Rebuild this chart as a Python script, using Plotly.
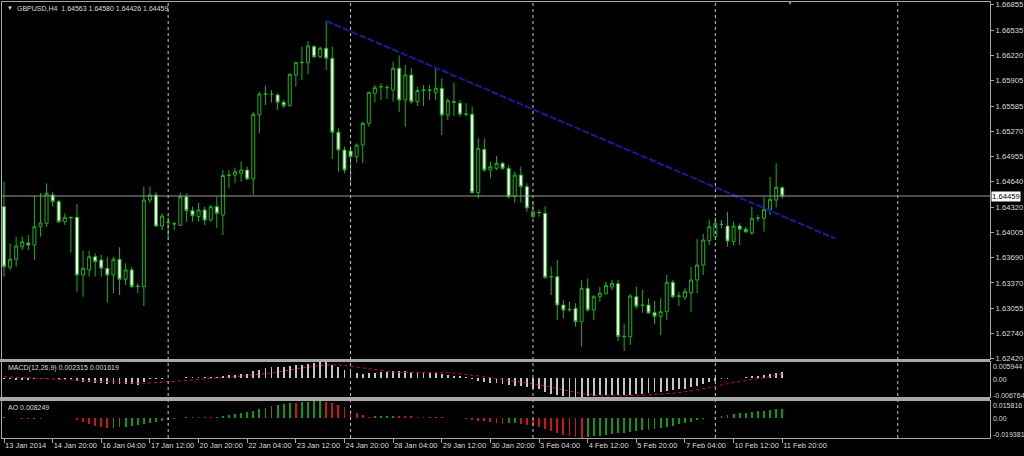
import plotly.graph_objects as go

# ---------------- data ----------------
symbol_text = "GBPUSD,H4  1.64563 1.64580 1.64426 1.64459"

opens = [1.64325,1.63566,1.63666,1.63824,1.63870,1.63845,1.64074,1.64117,1.64472,1.64388,
         1.64137,1.64192,1.64192,1.63469,1.63532,1.63698,1.63657,1.63553,1.63469,1.63666,
         1.63415,1.63532,1.63331,1.63323,1.64409,1.64472,1.64083,1.64124,1.64108,1.64092,
         1.64450,1.64275,1.64200,1.64284,1.64158,1.64325,1.64221,1.64718,1.64722,1.64743,
         1.64785,1.64672,1.65474,1.65731,1.65733,1.65725,1.65633,1.65591,1.65975,1.66129,
         1.66129,1.66330,1.66204,1.66310,1.66184,1.65257,1.65035,1.65023,1.64951,1.65098,
         1.65370,1.65746,1.65825,1.65816,1.65787,1.66059,1.65662,1.65975,1.65641,1.65783,
         1.65787,1.65753,1.65809,1.65474,1.65641,1.65621,1.65486,1.65483,1.64500,1.65044,
         1.64785,1.64806,1.64869,1.64806,1.64450,1.64722,1.64576,1.64200,1.64250,1.64242,
         1.63444,1.63448,1.63093,1.63039,1.63052,1.62884,1.63303,1.63031,1.63197,1.63240,
         1.63319,1.63360,1.62696,1.62696,1.63197,1.63093,1.63093,1.62997,1.62952,1.63009,
         1.63378,1.63202,1.63190,1.63247,1.63407,1.63594,1.63899,1.63949,1.64102,1.64083,
         1.63889,1.64083,1.64042,1.63999,1.64180,1.64180,1.64284,1.64409,1.64563]
highs = [1.64638,1.63866,1.63949,1.63949,1.63970,1.64459,1.64497,1.64618,1.64513,1.64409,
         1.64242,1.64200,1.64359,1.63774,1.63774,1.63741,1.63720,1.63698,1.63698,1.63816,
         1.63616,1.63573,1.63365,1.64576,1.64576,1.64513,1.64242,1.64200,1.64137,1.64500,
         1.64493,1.64325,1.64371,1.64325,1.64346,1.64450,1.64785,1.64785,1.64814,1.64889,
         1.64826,1.65515,1.65766,1.65841,1.65787,1.65746,1.65662,1.65996,1.66142,1.66330,
         1.66401,1.66351,1.66330,1.66652,1.66330,1.65307,1.65077,1.65077,1.65119,1.65390,
         1.65766,1.65850,1.65871,1.65850,1.66142,1.66220,1.66100,1.66059,1.65829,1.65850,
         1.65850,1.66050,1.65934,1.65683,1.65881,1.65662,1.65621,1.65578,1.65182,1.65182,
         1.64889,1.64960,1.64889,1.64847,1.64763,1.64826,1.64618,1.64388,1.64292,1.64330,
         1.63573,1.63657,1.63156,1.63135,1.63115,1.63407,1.63428,1.63219,1.63323,1.63385,
         1.63407,1.63407,1.62861,1.63231,1.63323,1.63281,1.63177,1.63143,1.63177,1.63469,
         1.63407,1.63260,1.63303,1.63569,1.63920,1.63983,1.64162,1.64190,1.64158,1.64262,
         1.64137,1.64117,1.64074,1.64325,1.64221,1.64450,1.64697,1.64869,1.64580]
lows = [1.63448,1.63532,1.63573,1.63782,1.63782,1.63657,1.63949,1.64074,1.64325,1.64121,
        1.64096,1.63749,1.63260,1.63197,1.63448,1.63448,1.63448,1.63122,1.63240,1.63219,
        1.63344,1.63303,1.63240,1.63081,1.64368,1.64074,1.64033,1.63942,1.64033,1.64083,
        1.64137,1.64137,1.64137,1.64096,1.64137,1.64054,1.63970,1.64555,1.64618,1.64638,
        1.64659,1.64472,1.65245,1.65599,1.65633,1.65537,1.65558,1.65578,1.65829,1.65913,
        1.65984,1.66184,1.66184,1.66038,1.64923,1.64763,1.64743,1.64618,1.64881,1.64869,
        1.65327,1.65633,1.65662,1.65674,1.65641,1.65512,1.65327,1.65612,1.65587,1.65587,
        1.65662,1.65662,1.65223,1.65411,1.65461,1.65453,1.65455,1.64493,1.64430,1.64763,
        1.64681,1.64785,1.64785,1.64430,1.64375,1.64375,1.64259,1.64180,1.64200,1.63419,
        1.63219,1.62905,1.62927,1.63009,1.62821,1.62571,1.63009,1.62905,1.63135,1.63219,
        1.63281,1.62642,1.62517,1.62592,1.63043,1.62999,1.62989,1.62855,1.62717,1.62905,
        1.63177,1.63081,1.63156,1.63009,1.63240,1.63469,1.63845,1.63908,1.64054,1.63824,
        1.63839,1.63845,1.63992,1.63970,1.64137,1.64012,1.64221,1.64317,1.64426]
closes = [1.63573,1.63666,1.63833,1.63886,1.63845,1.64074,1.64121,1.64493,1.64388,1.64137,
          1.64192,1.64186,1.63469,1.63553,1.63698,1.63636,1.63553,1.63469,1.63666,1.63415,
          1.63532,1.63323,1.63325,1.64409,1.64472,1.64083,1.64208,1.64129,1.64112,1.64450,
          1.64275,1.64212,1.64284,1.64158,1.64325,1.64242,1.64716,1.64722,1.64763,1.64785,
          1.64672,1.65483,1.65737,1.65737,1.65731,1.65633,1.65591,1.65984,1.66129,1.66134,
          1.66339,1.66204,1.66310,1.66184,1.65257,1.65035,1.64785,1.64951,1.65098,1.65370,
          1.65758,1.65816,1.65829,1.65818,1.66059,1.65662,1.65975,1.65641,1.65781,1.65787,
          1.65783,1.65809,1.65474,1.65653,1.65633,1.65486,1.65483,1.64500,1.65057,1.64785,
          1.64826,1.64869,1.64806,1.64450,1.64722,1.64576,1.64309,1.64262,1.64252,1.63438,
          1.63448,1.63093,1.63031,1.63034,1.62884,1.63303,1.63031,1.63197,1.63240,1.63338,
          1.63365,1.62699,1.62701,1.63206,1.63077,1.63089,1.62993,1.62952,1.63009,1.63378,
          1.63197,1.63206,1.63260,1.63407,1.63594,1.63908,1.64074,1.64117,1.64104,1.63895,
          1.64083,1.64042,1.64012,1.64180,1.64183,1.64292,1.64418,1.64568,1.64459]

macd_main = [-0.0003,-0.0004,-0.0005,-0.0005,-0.0005,-0.0004,-0.0003,-0.0001,0.0000,-0.0002,
             -0.0003,-0.0004,-0.0009,-0.0012,-0.0014,-0.0016,-0.0018,-0.0019,-0.0020,-0.0021,
             -0.0021,-0.0022,-0.0023,-0.0012,-0.0004,-0.0002,-0.0001,0.0000,0.0001,0.0003,
             0.0004,0.0004,0.0005,0.0005,0.0005,0.0005,0.0009,0.0012,0.0014,0.0016,
             0.0017,0.0025,0.0032,0.0037,0.0040,0.0041,0.0041,0.0044,0.0047,0.0050,
             0.0054,0.0056,0.0058,0.005944,0.0050,0.0040,0.0030,0.0023,0.0018,0.0016,
             0.0019,0.0021,0.0022,0.0023,0.0026,0.0026,0.0026,0.0024,0.0022,0.0021,
             0.0020,0.0019,0.0015,0.0012,0.0010,0.0007,0.0004,-0.0004,-0.0008,-0.0012,
             -0.0015,-0.0017,-0.0019,-0.0023,-0.0026,-0.0029,-0.0033,-0.0037,-0.0040,-0.0049,
             -0.0055,-0.0060,-0.0064,-0.0066,-0.006764,-0.0066,-0.0065,-0.0064,-0.0062,-0.0061,
             -0.0059,-0.0061,-0.0062,-0.0059,-0.0057,-0.0055,-0.0053,-0.0051,-0.0050,-0.0046,
             -0.0043,-0.0040,-0.0037,-0.0033,-0.0027,-0.0020,-0.0013,-0.0008,-0.0004,-0.0002,
             0.0000,0.0002,0.0004,0.0007,0.0010,0.0013,0.0016,0.0020,0.002315]
macd_signal = [0.0006,0.0005,0.0004,0.0003,0.0002,0.0001,0.0000,-0.0001,-0.0002,-0.0003,
               -0.0003,-0.0004,-0.0005,-0.0006,-0.0007,-0.0008,-0.0010,-0.0011,-0.0013,-0.0014,
               -0.0016,-0.0017,-0.0019,-0.0018,-0.0017,-0.0016,-0.0015,-0.0013,-0.0011,-0.0009,
               -0.0007,-0.0005,-0.0003,-0.0001,0.0001,0.0002,0.0004,0.0005,0.0006,0.0008,
               0.0009,0.0011,0.0014,0.0017,0.0020,0.0023,0.0027,0.0030,0.0034,0.0038,
               0.0041,0.0044,0.0047,0.0049,0.0050,0.0049,0.0047,0.0044,0.0041,0.0037,
               0.0033,0.0030,0.0027,0.0025,0.0023,0.0022,0.0022,0.0022,0.0022,0.0022,
               0.0022,0.0022,0.0021,0.0020,0.0019,0.0017,0.0015,0.0012,0.0009,0.0006,
               0.0003,0.0000,-0.0003,-0.0006,-0.0009,-0.0012,-0.0016,-0.0019,-0.0023,-0.0027,
               -0.0031,-0.0036,-0.0041,-0.0046,-0.0051,-0.0055,-0.0058,-0.0061,-0.0063,-0.0064,
               -0.0064,-0.0063,-0.0063,-0.0062,-0.0062,-0.0061,-0.0060,-0.0059,-0.0058,-0.0056,
               -0.0054,-0.0052,-0.0049,-0.0046,-0.0042,-0.0038,-0.0033,-0.0028,-0.0023,-0.0019,
               -0.0015,-0.0011,-0.0008,-0.0005,-0.0002,0.0002,0.0006,0.0011,0.001619]
ao_values = [0.0005,0.0000,-0.0005,-0.0010,-0.0013,-0.0011,-0.0009,-0.0007,-0.0005,-0.0004,
             -0.0003,-0.0006,-0.0020,-0.0040,-0.0060,-0.0075,-0.0090,-0.0102,-0.0098,-0.0092,
             -0.0085,-0.0078,-0.0070,-0.0060,-0.0050,-0.0040,-0.0030,-0.0020,-0.0010,-0.0003,
             0.0002,0.0006,0.0009,0.0008,0.0007,0.0010,0.0017,0.0025,0.0033,0.0040,
             0.0050,0.0065,0.0080,0.0095,0.0108,0.0120,0.0130,0.0142,0.0136,0.0145,
             0.0150,0.0155,0.015816,0.0150,0.0138,0.0120,0.0098,0.0072,0.0045,0.0025,
             0.0010,0.0012,0.0014,0.0016,0.0018,0.0017,0.0015,0.0012,0.0010,0.0008,
             0.0006,0.0004,0.0002,0.0001,-0.0002,-0.0006,-0.0012,-0.0020,-0.0028,-0.0036,
             -0.0044,-0.0050,-0.0056,-0.0052,-0.0050,-0.0060,-0.0070,-0.0080,-0.0092,-0.0110,
             -0.0128,-0.0146,-0.0162,-0.0176,-0.0186,-0.019381,-0.0185,-0.0178,-0.0170,-0.0162,
             -0.0155,-0.0150,-0.0145,-0.0138,-0.0130,-0.0122,-0.0115,-0.0105,-0.0095,-0.0085,
             -0.0075,-0.0062,-0.0050,-0.0038,-0.0025,-0.0015,-0.0008,0.0003,0.0015,0.0025,
             0.0035,0.0042,0.0048,0.0055,0.0060,0.0066,0.0072,0.0078,0.008249]

bar_index = list(range(len(closes)))

# trend line (two anchor points: bar index, price)
trend_x = [53, 136.7]
trend_y = [1.66652, 1.63926]

current_price = 1.64459

price_ticks = [1.66855, 1.66535, 1.66220, 1.65905, 1.65585, 1.65270, 1.64955, 1.64640,
               1.64320, 1.64005, 1.63690, 1.63370, 1.63055, 1.62740, 1.62420]

time_tick_index = [0, 8, 16, 24, 32, 40, 48, 56, 64, 72, 80, 88, 96, 104, 112, 120, 128]
time_tick_labels = ["13 Jan 2014", "14 Jan 20:00", "16 Jan 04:00", "17 Jan 12:00",
                    "20 Jan 20:00", "22 Jan 04:00", "23 Jan 12:00", "24 Jan 20:00",
                    "28 Jan 04:00", "29 Jan 12:00", "30 Jan 20:00", "3 Feb 04:00",
                    "4 Feb 12:00", "5 Feb 20:00", "7 Feb 04:00", "10 Feb 12:00",
                    "11 Feb 20:00"]

week_start_index = [27, 57, 87, 117, 147]

macd_label = "MACD(12,26,9) 0.002315 0.001619"
ao_label = "AO 0.008249"
macd_scale = [("0.005944", 366), ("0.00", 379), ("-0.006764", 395)]
ao_scale = [("0.015816", 405), ("0.00", 418), ("-0.019381", 434)]

# ---------------- styling / layout ----------------
W, H = 1024, 456
FONT = "Liberation Sans, Arial, sans-serif"
TXT = "#dcdcdc"
FRAME = "#a8a8a8"
GREEN = "#19b219"


def px(x):
    return x / W


def py(y):
    return 1 - y / H


X_LEFT, X_RIGHT = 2, 990
MAIN_TOP, MAIN_BOT = 2, 359
MACD_TOP, MACD_BOT = 362, 397
AO_TOP, AO_BOT = 401, 438

bar_px = 6.08
x_range = [-(4 - X_LEFT) / bar_px, (X_RIGHT - 4) / bar_px]

price_per_px = 0.0001253
y_main = [current_price - (MAIN_BOT - 196) * price_per_px,
          current_price + (196 - MAIN_TOP) * price_per_px]

fig = go.Figure()

fig.add_trace(go.Candlestick(
    x=bar_index, open=opens, high=highs, low=lows, close=closes,
    increasing=dict(line=dict(color=GREEN, width=1), fillcolor="#000000"),
    decreasing=dict(line=dict(color=GREEN, width=1), fillcolor="#ffffff"),
    whiskerwidth=0, xaxis="x", yaxis="y", showlegend=False, hoverinfo="skip"))

fig.add_trace(go.Scatter(
    x=trend_x, y=trend_y, mode="lines", xaxis="x", yaxis="y",
    line=dict(color="#1a1aa0", width=2, dash="7px,2px"), showlegend=False, hoverinfo="skip"))

fig.add_trace(go.Bar(
    x=bar_index, y=macd_main, width=0.3, marker=dict(color="#c4c4c4", line=dict(width=0)),
    xaxis="x2", yaxis="y2", showlegend=False, hoverinfo="skip"))
fig.add_trace(go.Scatter(
    x=bar_index, y=macd_signal, mode="lines", xaxis="x2", yaxis="y2",
    line=dict(color="#e01010", width=1, dash="dot"), showlegend=False, hoverinfo="skip"))

ao_colors = ["#0c9a0c" if (i == 0 or v >= ao_values[i - 1]) else "#d01414"
             for i, v in enumerate(ao_values)]
fig.add_trace(go.Bar(
    x=bar_index, y=ao_values, width=0.3, marker=dict(color=ao_colors, line=dict(width=0)),
    xaxis="x3", yaxis="y3", showlegend=False, hoverinfo="skip"))

xdom = [px(X_LEFT), px(X_RIGHT)]
common_x = dict(range=x_range, domain=xdom, showgrid=False, zeroline=False,
                showline=True, linecolor=FRAME, linewidth=1, mirror=True, fixedrange=True)

fig.update_layout(
    width=W, height=H, autosize=False,
    margin=dict(l=0, r=0, t=0, b=0, autoexpand=False),
    paper_bgcolor="#000000", plot_bgcolor="#000000",
    font=dict(family=FONT, size=8, color=TXT),
    bargap=0, showlegend=False,
    xaxis=dict(**common_x, anchor="y", showticklabels=False, ticks="",
               rangeslider=dict(visible=False)),
    xaxis2=dict(**common_x, anchor="y2", matches="x", showticklabels=False, ticks=""),
    xaxis3=dict(**common_x, anchor="y3", matches="x", tickmode="array",
                tickvals=time_tick_index, ticktext=time_tick_labels,
                ticks="outside", ticklen=4, tickcolor=FRAME, tickangle=0,
                ticklabelposition="outside right", ticklabeloverflow="allow",
                tickfont=dict(family=FONT, size=7.5, color=TXT)),
    yaxis=dict(domain=[py(MAIN_BOT), py(MAIN_TOP)], range=y_main, side="right",
               anchor="x", showgrid=False, zeroline=False, showline=True,
               linecolor=FRAME, mirror=True, tickmode="array",
               tickvals=price_ticks, ticktext=[f"{v:.5f}" for v in price_ticks],
               ticks="outside", ticklen=3, tickcolor=FRAME, ticklabeloverflow="allow",
               tickfont=dict(family=FONT, size=7.7, color=TXT), fixedrange=True),
    yaxis2=dict(domain=[py(MACD_BOT), py(MACD_TOP)], range=[-0.006764, 0.005944],
                anchor="x2", showgrid=False, zeroline=False, showline=True,
                linecolor=FRAME, mirror=True, showticklabels=False, ticks="",
                fixedrange=True),
    yaxis3=dict(domain=[py(AO_BOT), py(AO_TOP)], range=[-0.019381, 0.015816],
                anchor="x3", showgrid=False, zeroline=False, showline=True,
                linecolor=FRAME, mirror=True, showticklabels=False, ticks="",
                fixedrange=True),
)

shapes = []
# week separators (dotted)
for wi in week_start_index:
    shapes.append(dict(type="line", xref="x", yref="paper", x0=wi, x1=wi,
                       y0=py(AO_BOT), y1=py(MAIN_TOP),
                       line=dict(color="#c8c8c8", width=1, dash="dot")))
# current price line
shapes.append(dict(type="line", xref="paper", yref="y", x0=xdom[0], x1=xdom[1],
                   y0=current_price, y1=current_price,
                   line=dict(color="#9a9a9a", width=1)))
# panel separators
for top, bot in [(MAIN_BOT, MACD_TOP), (MACD_BOT, AO_TOP)]:
    shapes.append(dict(type="rect", xref="paper", yref="paper",
                       x0=px(0), x1=px(X_RIGHT), y0=py(bot), y1=py(top),
                       fillcolor=FRAME, line=dict(width=0)))
fig.update_layout(shapes=shapes)

ann = []
ann.append(dict(text="▼", x=px(5), y=py(8), xref="paper", yref="paper",
                xanchor="left", yanchor="middle", showarrow=False,
                font=dict(family=FONT, size=6, color=TXT)))
ann.append(dict(text=symbol_text, x=px(15), y=py(8), xref="paper", yref="paper",
                xanchor="left", yanchor="middle", showarrow=False,
                font=dict(family=FONT, size=7, color=TXT)))
ann.append(dict(text="▼", x=px(790), y=py(3), xref="paper", yref="paper",
                xanchor="center", yanchor="middle", showarrow=False,
                font=dict(family=FONT, size=6, color="#8c8c8c")))
ann.append(dict(text=macd_label, x=px(6), y=py(368), xref="paper", yref="paper",
                xanchor="left", yanchor="middle", showarrow=False,
                font=dict(family=FONT, size=7, color=TXT)))
ann.append(dict(text=ao_label, x=px(6), y=py(407), xref="paper", yref="paper",
                xanchor="left", yanchor="middle", showarrow=False,
                font=dict(family=FONT, size=7, color=TXT)))
for txt, yy in macd_scale + ao_scale:
    ann.append(dict(text=txt, x=px(991), y=py(yy), xref="paper", yref="paper",
                    xanchor="left", yanchor="middle", showarrow=False,
                    font=dict(family=FONT, size=7, color=TXT)))
ann.append(dict(text=f"{current_price:.5f}", x=px(991), y=current_price,
                xref="paper", yref="y", xanchor="left", yanchor="middle",
                showarrow=False, bgcolor="#ffffff", borderpad=0,
                font=dict(family=FONT, size=7.7, color="#000000")))
fig.update_layout(annotations=ann)

page_fix = ("document.body.style.margin='0';document.body.style.padding='0';"
            "document.body.style.overflow='hidden';"
            "document.documentElement.style.overflow='hidden';")
fig.write_html("out.html", post_script=page_fix,
               config={"displayModeBar": False, "staticPlot": True})
